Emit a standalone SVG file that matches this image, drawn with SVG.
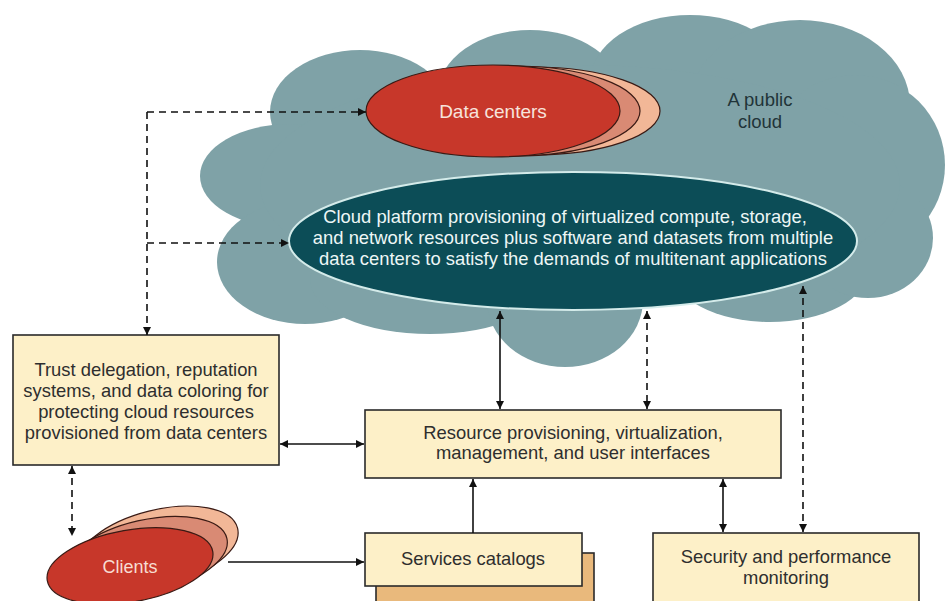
<svg xmlns="http://www.w3.org/2000/svg" width="951" height="601" viewBox="0 0 951 601">
<defs>
<style>
text{font-family:"Liberation Sans",Arial,sans-serif;text-anchor:middle}
.box{fill:#fdf0c8;stroke:#2a2a2a;stroke-width:1.6}
.bt{font-size:18.4px;fill:#2e2e2e}
.pt{font-size:18.4px;fill:#eef7f6}
.cl{fill:#7fa2a7}
.line{fill:none;stroke:#111;stroke-width:1.6}
.dash{stroke-dasharray:7 5}
.red{fill:#c7372a;stroke:#3a1a14;stroke-width:1.2}
.mid{fill:#d98a74;stroke:#3a1a14;stroke-width:1.2}
.light{fill:#f2b797;stroke:#3a1a14;stroke-width:1.2}
</style>
<marker id="ah" viewBox="0 0 10 10" refX="10" refY="5" markerWidth="9" markerHeight="8" markerUnits="userSpaceOnUse" orient="auto-start-reverse">
<path d="M0,0 L10,5 L0,10 z" fill="#111"/>
</marker>
</defs>
<rect width="951" height="601" fill="#ffffff"/>

<g id="cloud">
<ellipse class="cl" cx="360" cy="112" rx="90" ry="62"/>
<ellipse class="cl" cx="530" cy="94" rx="92" ry="64"/>
<ellipse class="cl" cx="690" cy="82" rx="100" ry="67"/>
<ellipse class="cl" cx="800" cy="105" rx="110" ry="85"/>
<ellipse class="cl" cx="855" cy="165" rx="90" ry="90"/>
<ellipse class="cl" cx="290" cy="176" rx="90" ry="52"/>
<ellipse class="cl" cx="305" cy="262" rx="88" ry="62"/>
<ellipse class="cl" cx="430" cy="280" rx="120" ry="54"/>
<ellipse class="cl" cx="565" cy="300" rx="78" ry="67"/>
<ellipse class="cl" cx="770" cy="270" rx="98" ry="52"/>
<ellipse class="cl" cx="868" cy="238" rx="65" ry="60"/>
<ellipse class="cl" cx="580" cy="185" rx="320" ry="120"/>
<text x="760" y="106" style="font-size:18.5px;fill:#1f3438">A public</text>
<text x="760" y="128" style="font-size:18.5px;fill:#1f3438">cloud</text>
</g>

<g id="datacenters">
<ellipse class="light" cx="533" cy="111" rx="127" ry="44"/>
<ellipse class="mid" cx="513" cy="111" rx="127" ry="45"/>
<ellipse class="red" cx="493" cy="111" rx="127" ry="46"/>
<text x="493" y="118" style="font-size:19px;fill:#f7e3dc">Data centers</text>
</g>

<g id="platform">
<ellipse cx="573" cy="241" rx="284" ry="69" fill="#0c4d57" stroke="#d4ebea" stroke-width="2"/>
<text class="pt" x="565" y="223">Cloud platform provisioning of virtualized compute, storage,</text>
<text class="pt" x="573" y="244">and network resources plus software and datasets from multiple</text>
<text class="pt" x="573" y="265">data centers to satisfy the demands of multitenant applications</text>
</g>

<g id="trust">
<rect class="box" x="13" y="335" width="266" height="130"/>
<text class="bt" x="146" y="376">Trust delegation, reputation</text>
<text class="bt" x="146" y="397">systems, and data coloring for</text>
<text class="bt" x="146" y="418">protecting cloud resources</text>
<text class="bt" x="146" y="439">provisioned from data centers</text>
</g>

<g id="resource">
<rect class="box" x="365" y="410" width="416" height="68"/>
<text class="bt" x="573" y="439">Resource provisioning, virtualization,</text>
<text class="bt" x="573" y="459">management, and user interfaces</text>
</g>

<g id="services">
<rect x="376" y="553" width="218" height="60" fill="#e9b97c" stroke="#2a2a2a" stroke-width="1.6"/>
<rect class="box" x="365" y="533" width="217" height="53"/>
<text class="bt" x="473" y="565">Services catalogs</text>
</g>

<g id="security">
<rect class="box" x="653" y="533" width="266" height="80"/>
<text class="bt" x="786" y="563">Security and performance</text>
<text class="bt" x="786" y="584">monitoring</text>
</g>

<g id="clients">
<ellipse class="light" cx="158" cy="548" rx="82" ry="38" transform="rotate(-14 158 548)"/>
<ellipse class="mid" cx="146" cy="557" rx="83" ry="37" transform="rotate(-13 146 557)"/>
<ellipse class="red" cx="130" cy="566" rx="84" ry="36" transform="rotate(-10 130 566)"/>
<text x="130" y="573" style="font-size:18px;fill:#f7ddd2">Clients</text>
</g>

<g id="connectors">
<path class="line dash" d="M147,112 L147,335" marker-end="url(#ah)"/>
<path class="line dash" d="M147,112 L366,112" marker-end="url(#ah)"/>
<path class="line dash" d="M147,243 L289,243" marker-end="url(#ah)"/>
<path class="line" d="M280,444 L364,444" marker-start="url(#ah)" marker-end="url(#ah)"/>
<path class="line dash" d="M72,466 L72,536" marker-start="url(#ah)" marker-end="url(#ah)"/>
<path class="line" d="M228,562 L364,562" marker-end="url(#ah)"/>
<path class="line" d="M473,533 L473,479" marker-end="url(#ah)"/>
<path class="line" d="M500,311 L500,409" marker-start="url(#ah)" marker-end="url(#ah)"/>
<path class="line dash" d="M647,311 L647,409" marker-start="url(#ah)" marker-end="url(#ah)"/>
<path class="line" d="M723,479 L723,532" marker-start="url(#ah)" marker-end="url(#ah)"/>
<path class="line dash" d="M803,286 L803,532" marker-start="url(#ah)" marker-end="url(#ah)"/>
</g>
</svg>
